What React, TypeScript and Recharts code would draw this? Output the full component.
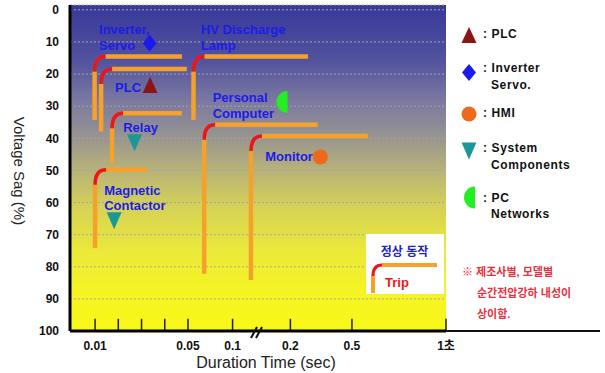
import React from "react";
import {
  ScatterChart,
  Scatter,
  XAxis,
  YAxis,
  CartesianGrid,
  ReferenceLine,
} from "recharts";

// broken duration axis: tick values (sec) and their slot on the axis
const tickSec = [0.01, 0.02, 0.03, 0.04, 0.05, 0.1, 0.2, 0.5, 1];
const tickSlot = [0, 1, 2, 3, 4, 5.92, 8.41, 11.06, 15.11];
const xLabelSec = [0.01, 0.05, 0.1, 0.2, 0.5, 1];
const xLabelText = ["0.01", "0.05", "0.1", "0.2", "0.5", "1초"];
const sagTicks = [0, 10, 20, 30, 40, 50, 60, 70, 80, 90, 100];

// ride-through curves
const devices = ["Inverter, Servo", "PLC", "Relay", "Magnetic Contactor", "HV Discharge Lamp", "Personal Computer", "Monitor"];
const curveStartSec = [0.0098, 0.0126, 0.0173, 0.01, 0.0562, 0.0682, 0.1318];
const curveEndSec = [0.0474, 0.0495, 0.0474, 0.0323, 0.286, 0.333, 0.584];
const curveTopSag = [14.5, 18.4, 32.2, 49.8, 14.5, 35.8, 39.3];
const curveBottomSag = [34.3, 37.9, 47.8, 74.2, 34.3, 82.2, 84.1];

// device labels
const labelLines = [["Inverter,", "Servo"], ["PLC"], ["Relay"], ["Magnetic", "Contactor"], ["HV Discharge", "Lamp"], ["Personal", "Computer"], ["Monitor"]];
const labelSec = [0.0117, 0.0186, 0.0221, 0.0139, 0.0645, 0.0777, 0.1565];
const labelSag = [6.2, 24.1, 36.6, 56.1, 6.2, 27.4, 45.8];

// markers
const markerKind = ["triangle", "diamond", "down", "down", "half", "circle"];
const markerSec = [0.0337, 0.0335, 0.027, 0.0182, 0.195, 0.346];
const markerSag = [23.4, 10.4, 41.4, 65.7, 28.7, 45.8];

// legend
const legendKind = ["triangle", "diamond", "circle", "down", "half"];
const legendText = [[": PLC"], [": Inverter", "Servo."], [": HMI"], [": System", "Components"], [": PC", "Networks"]];

const noteLines = ["※ 제조사별, 모델별", "순간전압강하 내성이", "상이함."];

const KIND_COLOR: Record<string, string> = {
  triangle: "#8b1414",
  diamond: "#1a1aee",
  circle: "#ee6a1a",
  down: "#1a9898",
  half: "#22ee22",
};
const ORANGE = "#f5a12b";
const RED = "#ee1515";
const LABEL_BLUE = "#1c1ce8";
const FONT = "'Liberation Sans', Arial, 'Noto Sans CJK KR', sans-serif";

function toSlot(sec: number) {
  for (let i = 0; i < tickSec.length - 1; i++) {
    if (sec <= tickSec[i + 1] || i === tickSec.length - 2) {
      const t = (sec - tickSec[i]) / (tickSec[i + 1] - tickSec[i]);
      return tickSlot[i] + t * (tickSlot[i + 1] - tickSlot[i]);
    }
  }
  return 0;
}

const xLabelSlots = xLabelSec.map(toSlot);

const markerData = markerKind.map((k, i) => ({ x: toSlot(markerSec[i]), y: markerSag[i], kind: k }));
const labelData = labelLines.map((lines, i) => ({ x: toSlot(labelSec[i]), y: labelSag[i], lines }));

function markerPath(kind: string, cx: number, cy: number) {
  const c = KIND_COLOR[kind];
  if (kind === "triangle")
    return <polygon points={`${cx},${cy - 8} ${cx - 7.5},${cy + 8} ${cx + 7.5},${cy + 8}`} fill={c} />;
  if (kind === "diamond")
    return <polygon points={`${cx},${cy - 8.5} ${cx + 7},${cy} ${cx},${cy + 8.5} ${cx - 7},${cy}`} fill={c} />;
  if (kind === "down")
    return <polygon points={`${cx - 7.5},${cy - 8.5} ${cx + 7.5},${cy - 8.5} ${cx},${cy + 8.5}`} fill={c} />;
  if (kind === "half")
    return <path d={`M${cx},${cy - 11} A11,11 0 0 0 ${cx},${cy + 11} Z`} fill={c} />;
  return <circle cx={cx} cy={cy} r={7.5} fill={c} />;
}

const LimbShape = (p: any) => {
  const { x1, y1, x2, y2 } = p;
  const rx = 11;
  const ry = 15;
  return (
    <g>
      <path d={`M${x1},${y1} V${y2 + ry}`} stroke={ORANGE} strokeWidth={4.5} fill="none" />
      <path d={`M${x1},${y2 + ry} Q${x1},${y2} ${x1 + rx},${y2}`} stroke={RED} strokeWidth={3.5} fill="none" />
      <path d={`M${x1 + rx},${y2} H${x2}`} stroke={ORANGE} strokeWidth={4.5} fill="none" />
    </g>
  );
};

const MarkerShape = (p: any) => markerPath(p.payload.kind, p.cx, p.cy);

const LabelShape = (p: any) => (
  <text x={p.cx} y={p.cy + 4.5} fontSize={13} fontWeight="bold" fill={LABEL_BLUE} fontFamily={FONT}>
    {p.payload.lines.map((l: string, i: number) => (
      <tspan key={i} x={p.cx} dy={i === 0 ? 0 : 15.5}>
        {l}
      </tspan>
    ))}
  </text>
);

export default function App() {
  const legendRows = [
    { my: 35, ty: 34 },
    { my: 72.5, ty: 68 },
    { my: 114, ty: 112.5 },
    { my: 151, ty: 148 },
    { my: 197.5, ty: 197.5 },
  ];
  return (
    <div style={{ position: "absolute", left: 0, top: 0, width: 605, height: 373, background: "#fff", fontFamily: FONT }}>
      <ScatterChart width={605} height={373} margin={{ top: 5, right: 159, bottom: 0, left: 0 }}>
        <defs>
          <linearGradient id="sagBg" x1="0" y1="0" x2="0" y2="1">
            <stop offset="0" stopColor="#38389a" />
            <stop offset="0.17" stopColor="#52529e" />
            <stop offset="0.29" stopColor="#7a78a0" />
            <stop offset="0.38" stopColor="#908e94" />
            <stop offset="0.5" stopColor="#b6b07a" />
            <stop offset="0.62" stopColor="#d6d256" />
            <stop offset="0.75" stopColor="#eae83a" />
            <stop offset="0.87" stopColor="#f4f424" />
            <stop offset="1" stopColor="#f8f818" />
          </linearGradient>
        </defs>
        <CartesianGrid vertical={false} fill="url(#sagBg)" stroke="#a4a4aa" strokeDasharray="2 2" />
        <XAxis
          type="number"
          dataKey="x"
          domain={[-1.08, 15.11]}
          allowDataOverflow
          ticks={xLabelSlots}
          tickFormatter={(v: number) => xLabelText[xLabelSlots.findIndex((s) => Math.abs(s - v) < 1e-6)] ?? ""}
          height={42}
          tickLine={false}
          tickSize={0}
          tickMargin={10}
          axisLine={{ stroke: "#000", strokeWidth: 3 }}
          tick={{ fontSize: 12, fontWeight: "bold", fill: "#111", fontFamily: FONT }}
        />
        <YAxis
          type="number"
          dataKey="y"
          reversed
          domain={[-1.5, 100]}
          allowDataOverflow
          ticks={sagTicks}
          width={70}
          tickLine={false}
          tickSize={0}
          tickMargin={11}
          axisLine={{ stroke: "#000", strokeWidth: 3 }}
          tick={{ fontSize: 12, fontWeight: "bold", fill: "#111", fontFamily: FONT }}
        />
        {tickSec.map((s) => (
          <ReferenceLine
            key={"t" + s}
            segment={[{ x: toSlot(s), y: 100 }, { x: toSlot(s), y: 96.2 }]}
            stroke="#222"
            strokeWidth={1.5}
          />
        ))}
        {devices.map((d, i) => (
          <ReferenceLine
            key={d}
            segment={[
              { x: toSlot(curveStartSec[i]), y: curveBottomSag[i] },
              { x: toSlot(curveEndSec[i]), y: curveTopSag[i] },
            ]}
            shape={LimbShape}
          />
        ))}
        <Scatter data={labelData} shape={LabelShape} isAnimationActive={false} />
        <Scatter data={markerData} shape={MarkerShape} isAnimationActive={false} />
      </ScatterChart>

      <svg width={605} height={373} style={{ position: "absolute", left: 0, top: 0, pointerEvents: "none" }}>
        {/* axis extension and break mark */}
        <line x1={446} y1={331} x2={600} y2={331} stroke="#111" strokeWidth={2} />
        <line x1={251} y1={338} x2={257} y2={327} stroke="#111" strokeWidth={2} />
        <line x1={256} y1={338} x2={262} y2={327} stroke="#111" strokeWidth={2} />

        <text transform="translate(13.5,171) rotate(90)" textAnchor="middle" fontSize={15} fill="#222">
          Voltage Sag (%)
        </text>
        <text x={266} y={368} textAnchor="middle" fontSize={16} fill="#222">
          Duration Time (sec)
        </text>

        {/* normal / trip key */}
        <rect x={366} y={234} width={78} height={60} fill="#fff" />
        <text x={404.5} y={256} textAnchor="middle" fontSize={12} fontWeight="bold" fill="#2222cc">
          정상 동작
        </text>
        <path d="M373,293 V276" stroke={ORANGE} strokeWidth={4} fill="none" />
        <path d="M373,276 Q373,265 382,265" stroke={RED} strokeWidth={3} fill="none" />
        <path d="M382,265 H437" stroke={ORANGE} strokeWidth={4} fill="none" />
        <text x={385} y={287} fontSize={13} fontWeight="bold" fill={RED}>
          Trip
        </text>

        {/* marker legend */}
        {legendKind.map((k, i) => (
          <g key={k}>
            {k === "half" ? markerPath(k, 475, legendRows[i].my) : markerPath(k, 469, legendRows[i].my)}
            <text fontSize={12} fontWeight="bold" fill="#111" letterSpacing={0.6}>
              {legendText[i].map((l, j) => (
                <tspan key={j} x={j === 0 ? 483 : 491} y={legendRows[i].ty + 4.3 + j * 16.5}>
                  {l}
                </tspan>
              ))}
            </text>
          </g>
        ))}

        {/* note */}
        {noteLines.map((l, i) => (
          <text key={i} x={i === 0 ? 462 : 477} y={276 + i * 21} fontSize={11} fontWeight="bold" fill="#e83040">
            {l}
          </text>
        ))}
      </svg>
    </div>
  );
}
